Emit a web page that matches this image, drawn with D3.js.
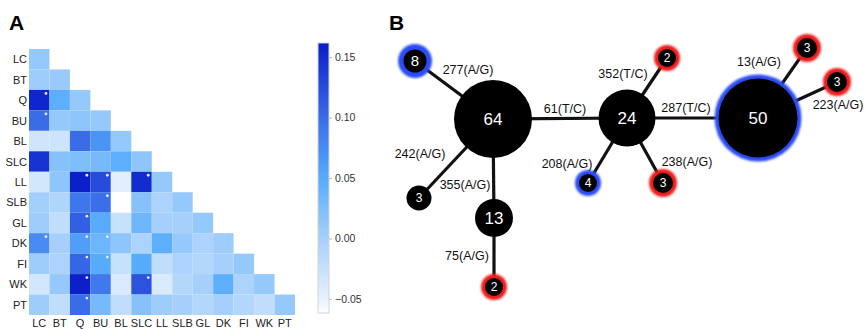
<!DOCTYPE html>
<html>
<head>
<meta charset="utf-8">
<script src="https://cdn.jsdelivr.net/npm/d3@7"></script>
<style>
  body { margin: 0; background: #fff; }
  svg text { font-family: "Liberation Sans", Arial, Helvetica, sans-serif; }
</style>
</head>
<body>
<div id="chart"></div>
<script>
/* ---- panel A data: lower triangle of the pairwise matrix ---- */
let pops = ["LC", "BT", "Q", "BU", "BL", "SLC", "LL", "SLB", "GL", "DK", "FI", "WK", "PT"];
let matrix = [
    [0.010],
    [0.005, 0.008],
    [0.155, 0.045, 0.010],
    [0.100, 0.010, 0.015, 0.010],
    [-0.032, -0.030, 0.100, 0.068, 0.010],
    [0.145, 0.020, 0.025, 0.030, 0.045, 0.015],
    [-0.035, 0.015, 0.160, 0.125, -0.045, 0.150, 0.010],
    [0.002, -0.008, 0.092, 0.098, -0.062, 0.020, -0.005, 0.010],
    [0.005, -0.020, 0.110, 0.048, -0.025, 0.035, 0.000, 0.000, 0.010],
    [0.075, 0.000, 0.060, 0.035, 0.015, -0.005, 0.045, 0.010, -0.005, 0.005],
    [0.005, -0.005, 0.105, 0.050, -0.025, 0.050, -0.020, -0.005, -0.010, 0.000, 0.010],
    [-0.035, 0.010, 0.160, 0.090, -0.040, 0.120, -0.040, -0.010, 0.000, 0.045, -0.005, 0.010],
    [0.005, -0.020, 0.100, 0.030, -0.020, 0.020, 0.005, 0.000, -0.010, 0.000, -0.010, -0.020, 0.010]
];
// cells marked with a white dot [row, col]
let significant = [[2, 0], [3, 0], [6, 2], [6, 3], [6, 5], [7, 3], [8, 2], [9, 0], [9, 2], [9, 3],
                   [10, 2], [10, 3], [11, 2], [11, 5], [12, 2]];
let legend_ticks = [-0.05, 0.00, 0.05, 0.10, 0.15];

/* ---- panel B data: haplotype network ---- */
let haplotypes = [
    {id: "h64", count: 64, ring: null},
    {id: "h8", count: 8, ring: "blue"},
    {id: "h3a", count: 3, ring: null},
    {id: "h13", count: 13, ring: null},
    {id: "h2a", count: 2, ring: "red"},
    {id: "h4", count: 4, ring: "blue"},
    {id: "h24", count: 24, ring: null},
    {id: "h2b", count: 2, ring: "red"},
    {id: "h3b", count: 3, ring: "red"},
    {id: "h50", count: 50, ring: "blue"},
    {id: "h3c", count: 3, ring: "red"},
    {id: "h3d", count: 3, ring: "red"}
];
let mutations = [
    {source: "h8", target: "h64", label: "277(A/G)"},
    {source: "h64", target: "h24", label: "61(T/C)"},
    {source: "h3a", target: "h64", label: "242(A/G)"},
    {source: "h13", target: "h64", label: "355(A/G)"},
    {source: "h2a", target: "h13", label: "75(A/G)"},
    {source: "h4", target: "h24", label: "208(A/G)"},
    {source: "h2b", target: "h24", label: "352(T/C)"},
    {source: "h24", target: "h50", label: "287(T/C)"},
    {source: "h3b", target: "h24", label: "238(A/G)"},
    {source: "h3c", target: "h50", label: "13(A/G)"},
    {source: "h3d", target: "h50", label: "223(A/G)"}
];

/* layout of the network (panel units: x, y, outer radius, ring width), kept apart from the data */
let node_layout = {
    h64: [113, 119, 39, 0], h8: [35, 61, 17, 5.5], h3a: [39, 198, 12.5, 0], h13: [114, 218, 19, 0],
    h2a: [114, 287, 13, 4], h4: [208, 183, 13, 4], h24: [247, 118, 28.5, 0], h2b: [287, 58, 13, 4],
    h3b: [283, 183, 14, 4], h50: [378, 118, 43.5, 4], h3c: [427, 48, 14, 4], h3d: [457, 82, 14, 4]
};
let label_layout = {
    "277(A/G)": [88, 69], "61(T/C)": [185, 108], "242(A/G)": [40, 153], "355(A/G)": [85, 184],
    "75(A/G)": [87, 255], "208(A/G)": [187, 163], "352(T/C)": [243, 73], "287(T/C)": [306, 107],
    "238(A/G)": [307, 161], "13(A/G)": [379, 61], "223(A/G)": [458, 104]
};

let width = 865, height = 329;
let svg = d3.select("#chart").append("svg").attr("width", width).attr("height", height);

/* panel letters */
svg.append("text").attr("x", 9).attr("y", 30).attr("font-size", 21).attr("font-weight", "bold").text("A");
svg.append("text").attr("x", 389).attr("y", 30).attr("font-size", 21).attr("font-weight", "bold").text("B");

/* ================= panel A ================= */
let x = d3.scaleBand().domain(pops).range([29, 295]);
let y = d3.scaleBand().domain(pops).range([49, 315]);

/* colour scheme: white -> light blue -> deep blue */
let color = d3.scaleLinear()
    .domain([-0.062, -0.05, 0, 0.05, 0.10, 0.162])
    .range(["#ffffff", "#e6f1fd", "#a6d0fb", "#56abfb", "#3a6ce8", "#0a1dc8"])
    .clamp(true);

let cells = [];
matrix.forEach(function(row, i) {
    row.forEach(function(v, j) { cells.push({i: i, j: j, v: v}); });
});

let heat = svg.append("g");
heat.selectAll("rect")
    .data(cells)
    .enter().append("rect")
    .attr("x", function(d) { return x(pops[d.j]); })
    .attr("y", function(d) { return y(pops[d.i]); })
    .attr("width", x.bandwidth())
    .attr("height", y.bandwidth())
    .attr("fill", function(d) { return color(d.v); });

heat.selectAll("circle")
    .data(significant)
    .enter().append("circle")
    .attr("cx", function(d) { return x(pops[d[1]]) + x.bandwidth() - 3.5; })
    .attr("cy", function(d) { return y(pops[d[0]]) + 3.5; })
    .attr("r", 1.4)
    .attr("fill", "#e8ecff");

// row and column names
svg.selectAll(".row-name")
    .data(pops)
    .enter().append("text")
    .attr("class", "row-name")
    .attr("x", 27)
    .attr("y", function(d) { return y(d) + y.bandwidth() / 2 + 4; })
    .attr("text-anchor", "end")
    .attr("font-size", 11)
    .attr("fill", "#222")
    .text(function(d) { return d; });

svg.selectAll(".col-name")
    .data(pops)
    .enter().append("text")
    .attr("class", "col-name")
    .attr("x", function(d) { return x(d) + x.bandwidth() / 2; })
    .attr("y", 327)
    .attr("text-anchor", "middle")
    .attr("font-size", 11)
    .attr("fill", "#222")
    .text(function(d) { return d; });

/* colour bar */
let bar_y = d3.scaleLinear().domain([-0.0617, 0.1617]).range([313, 43]);
let defs = svg.append("defs");
let grad = defs.append("linearGradient").attr("id", "bar-grad")
    .attr("x1", 0).attr("y1", 1).attr("x2", 0).attr("y2", 0);
d3.range(0, 1.0001, 0.05).forEach(function(t) {
    let v = bar_y.domain()[0] + t * (bar_y.domain()[1] - bar_y.domain()[0]);
    grad.append("stop").attr("offset", t).attr("stop-color", color(v));
});
svg.append("rect")
    .attr("x", 318).attr("y", bar_y(0.1617))
    .attr("width", 11).attr("height", bar_y(-0.0617) - bar_y(0.1617))
    .attr("fill", "url(#bar-grad)")
    .attr("stroke", "#d4d4d4").attr("stroke-width", 1);

let bar_axis = d3.axisRight(bar_y).tickValues(legend_ticks).tickSize(3).tickFormat(d3.format(".2f"));
let bar_g = svg.append("g").attr("transform", "translate(329,0)").call(bar_axis);
bar_g.select(".domain").remove();
bar_g.selectAll(".tick line").attr("stroke", "#bbb");
bar_g.selectAll(".tick text").attr("font-size", 10.5).attr("fill", "#333").attr("x", 6)
    .style("font-family", "'Liberation Sans', Arial, sans-serif");

/* ================= panel B ================= */
let nx = d3.scaleLinear().domain([0, 485]).range([380, 865]);
let ny = d3.scaleLinear().domain([0, 329]).range([0, 329]);

let pos = {};
haplotypes.forEach(function(h) {
    let p = node_layout[h.id];
    pos[h.id] = {x: nx(p[0]), y: ny(p[1]), r: p[2], ring: p[3]};
});

let net = svg.append("g");
net.selectAll("line")
    .data(mutations)
    .enter().append("line")
    .attr("x1", function(d) { return pos[d.source].x; })
    .attr("y1", function(d) { return pos[d.source].y; })
    .attr("x2", function(d) { return pos[d.target].x; })
    .attr("y2", function(d) { return pos[d.target].y; })
    .attr("stroke", "#111")
    .attr("stroke-width", 3.2);

let ring_color = {blue: "#2a4cf5", red: "#ee1c1c"};
defs.append("filter").attr("id", "soft")
    .attr("x", "-30%").attr("y", "-30%").attr("width", "160%").attr("height", "160%")
    .append("feGaussianBlur").attr("stdDeviation", 1);

let node = net.selectAll(".node")
    .data(haplotypes)
    .enter().append("g")
    .attr("class", "node")
    .attr("transform", function(d) { return "translate(" + pos[d.id].x + "," + pos[d.id].y + ")"; });

node.filter(function(d) { return d.ring; }).append("circle")
    .attr("r", function(d) { return pos[d.id].r; })
    .attr("fill", function(d) { return ring_color[d.ring]; })
    .attr("filter", "url(#soft)");

node.append("circle")
    .attr("r", function(d) { return pos[d.id].r - pos[d.id].ring; })
    .attr("fill", "#000");

node.append("text")
    .attr("text-anchor", "middle")
    .attr("dy", "0.36em")
    .attr("fill", "#fff")
    .attr("font-size", function(d) { return d.count >= 13 ? 17 : (d.count >= 8 ? 15 : 12); })
    .text(function(d) { return d.count; });

net.selectAll(".mut")
    .data(mutations)
    .enter().append("text")
    .attr("class", "mut")
    .attr("x", function(d) { return nx(label_layout[d.label][0]); })
    .attr("y", function(d) { return ny(label_layout[d.label][1]); })
    .attr("dy", "0.36em")
    .attr("text-anchor", "middle")
    .attr("font-size", 12.5)
    .attr("fill", "#111")
    .text(function(d) { return d.label; });
</script>
</body>
</html>
